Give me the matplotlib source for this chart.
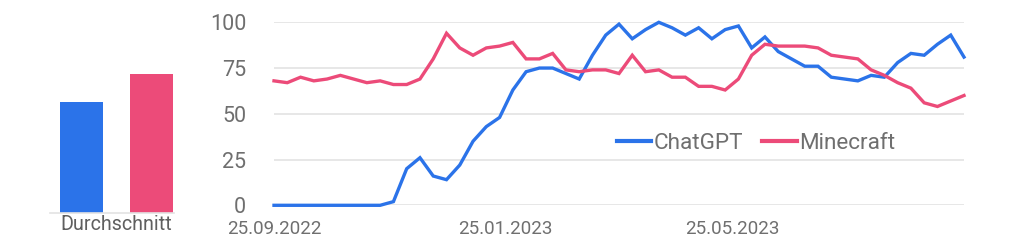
import matplotlib
matplotlib.use("Agg")
import matplotlib.pyplot as plt
import matplotlib.dates as mdates
import numpy as np
import pandas as pd

plt.rcParams['font.family'] = ['Roboto', 'DejaVu Sans']

# ---- data ----
series_names = ["ChatGPT", "Minecraft"]
start_date = "2022-09-25"
chatgpt = [0, 0, 0, 0, 0, 0, 0, 0, 0, 2, 20, 26, 16, 14, 22, 35, 43, 48, 63, 73,
           75, 75, 72, 69, 82, 93, 99, 91, 96, 100, 97, 93, 97, 91, 96, 98, 86, 92,
           84, 80, 76, 76, 70, 69, 68, 71, 70, 78, 83, 82, 88, 93, 81]
minecraft = [68, 67, 70, 68, 69, 71, 69, 67, 68, 66, 66, 69, 80, 94, 86, 82, 86, 87,
             89, 80, 80, 83, 74, 73, 74, 74, 72, 82, 73, 74, 70, 70, 65, 65, 63, 69,
             82, 88, 87, 87, 87, 86, 82, 81, 80, 74, 71, 67, 64, 56, 54, 57, 60]
averages = [59, 74]
bar_label = "Durchschnitt"
y_ticks = [0, 25, 50, 75, 100]
x_tick_labels = ["25.09.2022", "25.01.2023", "25.05.2023"]

colors = ["#2b73e9", "#ec4b79"]
text_gray = "#6f6f6f"
grid_gray = "#e3e3e3"

dates = pd.date_range(start_date, periods=len(chatgpt), freq="7D")

W, H = 1024, 245
fig = plt.figure(figsize=(W / 100, H / 100), dpi=100)

def frac(x0, y0, x1, y1):
    return [x0 / W, 1 - y1 / H, (x1 - x0) / W, (y1 - y0) / H]

# ---- bar axes ----
axb = fig.add_axes(frac(50, 22.3, 174, 212.7))
axb.bar([0, 1], averages, width=0.614, color=colors, align="center")
axb.set_xlim(-0.45, 1.32)
axb.set_ylim(0, 101.5)
for s in ["top", "right", "left"]:
    axb.spines[s].set_visible(False)
axb.spines["bottom"].set_color(grid_gray)
axb.spines["bottom"].set_linewidth(1.2)
axb.set_yticks([])
axb.set_xticks([0.5])
axb.set_xticklabels([bar_label], fontsize=14.2, color="#5f5f5f")
axb.tick_params(axis="x", length=0, pad=2)

# ---- line axes ----
ax = fig.add_axes(frac(274, 22.3, 964, 205.3))
for vals, c, name in zip([chatgpt, minecraft], colors, series_names):
    ax.plot(dates, vals, color=c, lw=2.4, label=name, clip_on=False,
            solid_joinstyle="miter", zorder=3)
ax.set_xlim(dates[0], dates[-1])
ax.set_ylim(0, 100)
ax.set_yticks(y_ticks)
ax.set_yticklabels([str(v) for v in y_ticks], fontsize=15.5, color=text_gray)
ax.yaxis.grid(True, color=grid_gray, lw=1.2)
ax.set_axisbelow(True)
ax.tick_params(axis="y", length=0, pad=20)
xt = [pd.to_datetime(s, format="%d.%m.%Y") for s in x_tick_labels]
ax.set_xticks(xt)
ax.set_xticklabels(x_tick_labels, fontsize=13.5, color=text_gray)
ax.tick_params(axis="x", length=0, pad=10.5)
for s in ax.spines.values():
    s.set_visible(False)

leg = ax.legend(loc="center", bbox_to_anchor=((756 - 274) / 690, 1 - (143 - 22.3) / 183),
                ncol=2, frameon=False, fontsize=16.2, handlelength=1.55,
                handletextpad=0.1, columnspacing=0.85, labelcolor=text_gray)
for line in leg.get_lines():
    line.set_linewidth(3)

fig.savefig("out.png", dpi=100)
